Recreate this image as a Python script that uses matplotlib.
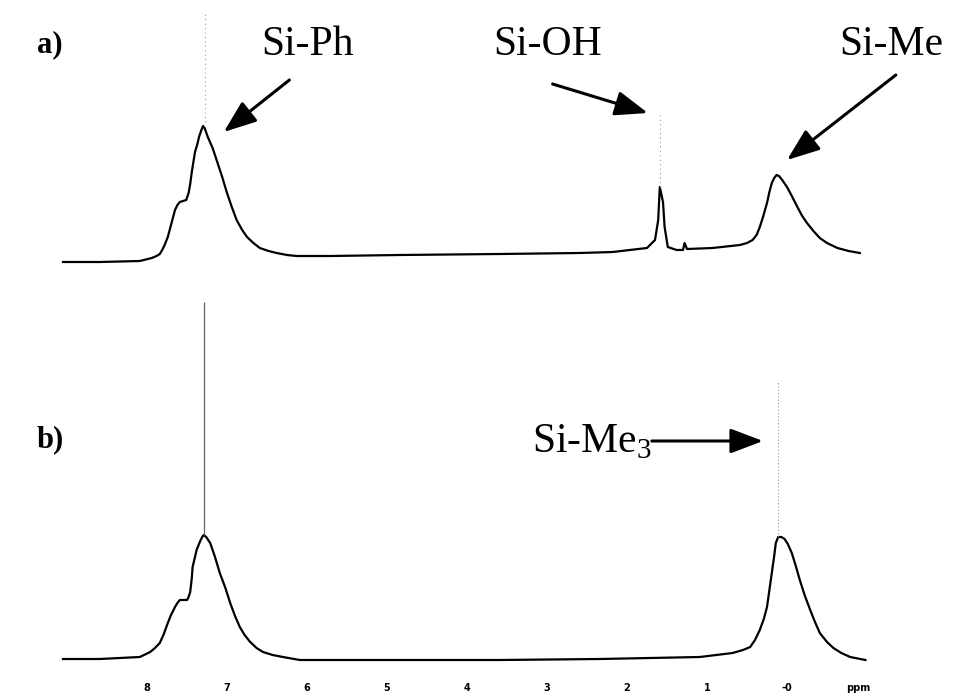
import numpy as np
import matplotlib.pyplot as plt

plt.rcParams['font.family'] = ['Liberation Serif', 'DejaVu Serif']
plt.rcParams['mathtext.fontset'] = 'custom'
plt.rcParams['mathtext.rm'] = 'Liberation Serif'

# spectrum a) : chemical shift (ppm) and intensity (a.u.)
ppm_a = [9.05, 8.59, 8.09, 7.94, 7.88, 7.84, 7.81, 7.78, 7.74, 7.71, 7.68, 7.65,
         7.62, 7.59, 7.55, 7.51, 7.48, 7.46, 7.44, 7.42, 7.40, 7.37, 7.35, 7.32,
         7.30, 7.28, 7.24, 7.18, 7.13, 7.06, 7.00, 6.94, 6.88, 6.81, 6.75, 6.67,
         6.59, 6.48, 6.38, 6.25, 6.13, 5.71, 4.84, 3.59, 2.59, 2.18, 1.75, 1.65,
         1.61, 1.59, 1.55, 1.53, 1.49, 1.38, 1.30, 1.28, 1.25, 0.93, 0.59, 0.50,
         0.43, 0.38, 0.34, 0.30, 0.25, 0.22, 0.19, 0.16, 0.13, 0.10, 0.06, 0.00,
         -0.06, -0.13, -0.19, -0.25, -0.33, -0.41, -0.50, -0.63, -0.77, -0.91]
int_a = [0, 0, 1, 4, 6, 8, 12, 17, 25, 34, 43, 52,
         57, 60, 61, 62, 69, 78, 90, 100, 110, 118, 125, 132,
         136, 134, 125, 114, 102, 85, 69, 55, 42, 32, 25, 19,
         14, 11, 9, 7, 6, 6, 7, 8, 9, 10, 14, 22,
         42, 75, 60, 35, 15, 12, 12, 19, 13, 14, 17, 19,
         22, 27, 35, 45, 59, 70, 79, 84, 87, 86, 82, 75,
         66, 55, 46, 39, 31, 24, 19, 14, 11, 9]

# spectrum b)
ppm_b = [9.05, 8.59, 8.09, 7.96, 7.90, 7.84, 7.79, 7.74, 7.70, 7.65, 7.62, 7.59,
         7.55, 7.50, 7.48, 7.46, 7.44, 7.43, 7.40, 7.38, 7.34, 7.31, 7.29, 7.26,
         7.21, 7.15, 7.09, 7.02, 6.96, 6.90, 6.84, 6.78, 6.71, 6.63, 6.55, 6.43,
         6.30, 6.09, 4.84, 3.59, 2.34, 1.71, 1.09, 0.68, 0.55, 0.46, 0.40, 0.34,
         0.29, 0.25, 0.22, 0.19, 0.16, 0.14, 0.11, 0.07, 0.03, -0.01, -0.06, -0.11,
         -0.16, -0.22, -0.29, -0.35, -0.41, -0.50, -0.58, -0.68, -0.79, -0.98]
int_b = [1, 1, 3, 8, 12, 17, 26, 37, 45, 53, 57, 60,
         60, 60, 63, 68, 82, 93, 103, 110, 118, 123, 125, 123,
         117, 103, 87, 72, 57, 44, 33, 25, 18, 12, 8, 5,
         3, 0, 0, 0, 1, 2, 3, 7, 10, 13, 20, 30,
         41, 53, 70, 87, 104, 117, 123, 123, 121, 116, 107, 94,
         80, 65, 50, 38, 27, 18, 12, 7, 3, 0]

# sharp lines drawn faintly: (ppm, foot, top)
spikes_a = [(7.27, 140, 249), (1.59, 75, 149)]
spikes_b = [(7.29, 125, 358), (0.11, 123, 280)]

offset_a = 398  # vertical shift of trace a)

tick_pos = [8, 7, 6, 5, 4, 3, 2, 1, 0, -0.89]
tick_lab = ['8', '7', '6', '5', '4', '3', '2', '1', '-0', 'ppm']

fig = plt.figure(figsize=(9.54, 6.96), dpi=100)
ax = fig.add_axes([0, 16 / 696, 1, 680 / 696])
ax.set_xlim(787 / 80, (787 - 954) / 80)
ax.set_ylim(-20, 660)

ax.plot(ppm_a, np.array(int_a) + offset_a, color='black', lw=1.6)
ax.plot(ppm_b, int_b, color='black', lw=1.6)

for x, lo, hi in spikes_a:
    ax.vlines(x, lo + offset_a, hi + offset_a, color='#999999', lw=0.8,
              linestyles=(0, (1, 3)))
ax.vlines(spikes_b[0][0], spikes_b[0][1], spikes_b[0][2], color='#666666', lw=0.9)
ax.vlines(spikes_b[1][0], spikes_b[1][1], spikes_b[1][2], color='#999999', lw=0.8,
          linestyles=(0, (1, 2)))

for s in ax.spines.values():
    s.set_visible(False)
ax.set_yticks([])
ax.set_xticks(tick_pos)
ax.set_xticklabels(tick_lab, fontsize=7, family='DejaVu Sans', fontweight='bold')
ax.tick_params(axis='x', length=0, pad=2)

# panel letters
ax.text(9.21, 615, 'a)', fontsize=22, fontweight='bold', ha='center', va='center')
ax.text(9.21, 220, 'b)', fontsize=22, fontweight='bold', ha='center', va='center')

# peak assignments with arrows
labels = [('Si-Ph', (5.99, 615), (6.22, 580), (7.04, 528)),
          ('Si-OH', (2.99, 615), (2.93, 576), (1.74, 547)),
          ('Si-Me', (-1.30, 615), (-1.36, 585), (0.00, 500)),
          ('Si-Me$_3$', (2.44, 218), (1.69, 219), (0.30, 219))]
for txt, tpos, tail, tip in labels:
    ax.text(tpos[0], tpos[1], txt, fontsize=30, ha='center', va='center')
    ax.annotate('', xy=tip, xytext=tail,
                arrowprops=dict(arrowstyle='-|>,head_length=1.0,head_width=0.38',
                                mutation_scale=20, lw=2.2, color='black',
                                shrinkA=0, shrinkB=0))

fig.savefig('out.png', dpi=100)
